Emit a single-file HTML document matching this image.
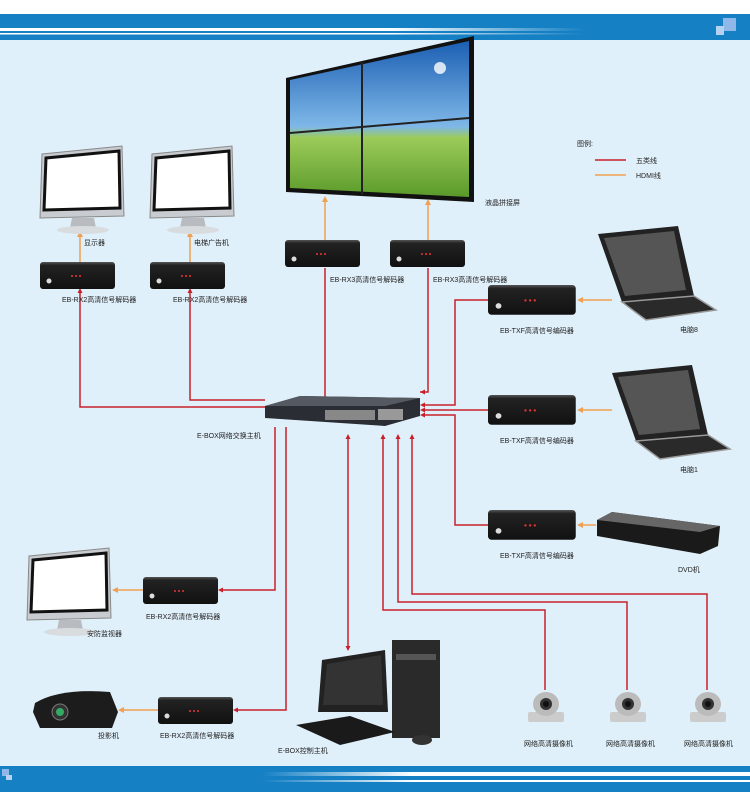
<!DOCTYPE html>
<html><head><meta charset="utf-8"><style>
body{margin:0;width:750px;height:800px;overflow:hidden;background:#fff}
svg{display:block}
text{font-family:"Liberation Sans","Noto Sans CJK SC",sans-serif;font-size:7px;fill:#222}
</style></head><body>
<svg width="750" height="800" viewBox="0 0 750 800" xmlns="http://www.w3.org/2000/svg">
<defs>
<linearGradient id="ln" x1="0" x2="1"><stop offset="0" stop-color="#fff"/><stop offset=".6" stop-color="#fff"/><stop offset=".9" stop-color="#fff" stop-opacity="0"/></linearGradient>
<linearGradient id="ln2" x1="1" x2="0"><stop offset="0" stop-color="#fff"/><stop offset=".45" stop-color="#fff"/><stop offset=".65" stop-color="#fff" stop-opacity="0"/></linearGradient>
<linearGradient id="sky" x1="0" y1="0" x2="0" y2="1"><stop offset="0" stop-color="#1c5fb3"/><stop offset=".55" stop-color="#7fb8e8"/><stop offset=".62" stop-color="#9ccb5a"/><stop offset="1" stop-color="#5a9a2a"/></linearGradient>
<linearGradient id="box" x1="0" y1="0" x2="0" y2="1"><stop offset="0" stop-color="#555"/><stop offset=".12" stop-color="#222"/><stop offset="1" stop-color="#111"/></linearGradient>
<g id="bx"><rect x="0" y="0" width="75" height="27" rx="3" fill="url(#box)"/><circle cx="9" cy="19" r="2.5" fill="#ddd"/><circle cx="32" cy="14" r="1" fill="#e33"/><circle cx="36" cy="14" r="1" fill="#e33"/><circle cx="40" cy="14" r="1" fill="#e33"/></g>
<g id="mon"><path d="M4 8 L84 0 L86 70 L2 72 Z" fill="#c8ccd0" stroke="#888" stroke-width="1"/><path d="M8 12 L81 5 L82 62 L6 64 Z" fill="#fff" stroke="#111" stroke-width="3"/><path d="M34 72 L56 72 L58 82 L32 82 Z" fill="#b8bcc0"/><ellipse cx="45" cy="84" rx="26" ry="4" fill="#d8dcdf"/></g>
<g id="cam"><rect x="2" y="22" width="36" height="10" rx="2" fill="#ccc"/><ellipse cx="20" cy="14" rx="13" ry="12" fill="#bbb"/><circle cx="20" cy="14" r="6" fill="#333"/><circle cx="20" cy="14" r="3" fill="#111"/></g>
<g id="lap"><path d="M0 8 L80 0 L96 70 L24 76 Z" fill="#222"/><path d="M6 12 L76 5 L88 64 L27 70 Z" fill="#555"/><path d="M24 76 L96 70 L118 84 L48 94 Z" fill="#2a2a2a" stroke="#999" stroke-width="1.5"/></g>
</defs>
<rect width="750" height="800" fill="#fff"/>
<rect y="40" width="750" height="726" fill="#e0f0fa"/>
<rect y="14" width="750" height="26" fill="#1580c4"/>
<rect y="28" width="650" height="3" fill="url(#ln)"/>
<rect y="33" width="650" height="1.5" fill="url(#ln)"/>
<rect x="723" y="18" width="13" height="13" fill="#8fb8e8"/><rect x="716" y="26" width="8" height="9" fill="#b5d2f0"/>
<rect y="766" width="750" height="26" fill="#1580c4"/>
<rect y="772" width="750" height="4" fill="url(#ln2)"/>
<rect y="780" width="750" height="2" fill="url(#ln2)"/>
<rect x="2" y="769" width="7" height="7" fill="#8fb8e8"/><rect x="6" y="775" width="6" height="5" fill="#b5d2f0"/>

<!-- video wall -->
<path d="M286 78 L474 36 L474 202 L286 192 Z" fill="#111"/>
<path d="M290 80 L469 41 L469 197 L290 188 Z" fill="url(#sky)"/>
<path d="M362 62 L362 195 M290 133 L469 118" stroke="#222" stroke-width="2"/>
<circle cx="440" cy="68" r="6" fill="#fff" opacity=".8"/>
<text x="485" y="205">液晶拼接屏</text>

<!-- legend -->
<text x="577" y="146">图例:</text>
<line x1="595" y1="160" x2="626" y2="160" stroke="#c8202a" stroke-width="1.5"/><text x="636" y="163">五类线</text>
<line x1="595" y1="175" x2="626" y2="175" stroke="#f0a050" stroke-width="1.5"/><text x="636" y="178">HDMI线</text>

<!-- red lines -->
<g stroke="#c8202a" stroke-width="1.5" fill="none">
<path d="M80 290 V407 H265"/><path d="M190 290 V400 H265"/>
<path d="M325 268 V397"/><path d="M428 268 V392 H420"/>
<path d="M488 300 H455 V405 H422"/><path d="M488 410 H422"/><path d="M488 525 H455 V415 H422"/>
<path d="M275 427 V590 H220"/><path d="M286 427 V710 H235"/>
<path d="M348 437 V648"/>
<path d="M383 437 V610 H545 V690"/><path d="M398 437 V602 H627 V690"/><path d="M412 437 V594 H707 V690"/>
</g>
<g fill="#c8202a">
<path d="M420 392 l5 -2.5 v5z"/><path d="M420 405 l5 -2.5 v5z"/><path d="M420 410 l5 -2.5 v5z"/><path d="M420 415 l5 -2.5 v5z"/>
<path d="M218 590 l5 -2.5 v5z"/><path d="M233 710 l5 -2.5 v5z"/>
<path d="M348 434 l-2.5 5 h5z"/><path d="M348 651 l-2.5 -5 h5z"/>
<path d="M383 434 l-2.5 5 h5z"/><path d="M398 434 l-2.5 5 h5z"/><path d="M412 434 l-2.5 5 h5z"/>
<path d="M80 288 l-2.5 5 h5z"/><path d="M190 288 l-2.5 5 h5z"/>
</g>
<!-- orange -->
<g stroke="#f0a050" stroke-width="1.5"><path d="M325 240 V200"/><path d="M428 240 V203"/><path d="M80 262 V235"/><path d="M190 262 V235"/><path d="M612 300 H580"/><path d="M612 410 H580"/><path d="M596 525 H580"/><path d="M143 590 H115"/><path d="M158 710 H121"/></g>
<g fill="#f0a050"><path d="M325 196 l-3 6 h6z"/><path d="M428 199 l-3 6 h6z"/><path d="M80 231 l-3 6 h6z"/><path d="M190 231 l-3 6 h6z"/><path d="M577 300 l6 -3 v6z"/><path d="M577 410 l6 -3 v6z"/><path d="M577 525 l6 -3 v6z"/><path d="M112 590 l6 -3 v6z"/><path d="M118 710 l6 -3 v6z"/></g>

<!-- monitors -->
<use href="#mon" x="38" y="146"/><text x="84" y="245">显示器</text>
<use href="#mon" x="148" y="146"/><text x="194" y="245">电梯广告机</text>
<use href="#mon" x="25" y="548"/><text x="87" y="636">安防监视器</text>

<!-- boxes -->
<use href="#bx" x="40" y="262"/><text x="62" y="302">EB-RX2高清信号解码器</text>
<use href="#bx" x="150" y="262"/><text x="173" y="302">EB-RX2高清信号解码器</text>
<use href="#bx" x="285" y="240"/><text x="330" y="282">EB-RX3高清信号解码器</text>
<use href="#bx" x="390" y="240"/><text x="433" y="282">EB-RX3高清信号解码器</text>
<g transform="translate(488,285) scale(1.17,1.1)"><use href="#bx"/></g><text x="500" y="333">EB-TXF高清信号编码器</text>
<g transform="translate(488,395) scale(1.17,1.1)"><use href="#bx"/></g><text x="500" y="443">EB-TXF高清信号编码器</text>
<g transform="translate(488,510) scale(1.17,1.1)"><use href="#bx"/></g><text x="500" y="558">EB-TXF高清信号编码器</text>
<use href="#bx" x="143" y="577"/><text x="146" y="619">EB-RX2高清信号解码器</text>
<use href="#bx" x="158" y="697"/><text x="160" y="738">EB-RX2高清信号解码器</text>

<!-- switch -->
<path d="M265 406 L300 396 L420 398 L420 416 L385 426 L265 418 Z" fill="#2a2d33"/>
<path d="M265 406 L300 396 L420 398 L385 406 Z" fill="#555a62"/>
<rect x="325" y="410" width="50" height="10" fill="#888"/><rect x="378" y="409" width="25" height="11" fill="#999"/>
<text x="197" y="438">E-BOX网络交换主机</text>

<!-- laptops -->
<use href="#lap" x="598" y="226"/><text x="680" y="332">电脑8</text>
<use href="#lap" x="612" y="365"/><text x="680" y="472">电脑1</text>
<!-- DVD -->
<path d="M597 520 L612 512 L720 526 L718 546 L700 554 L597 536 Z" fill="#1a1a1a"/><path d="M597 520 L612 512 L720 526 L700 532 Z" fill="#666"/>
<text x="678" y="572">DVD机</text>

<!-- projector -->
<path d="M35 703 Q60 688 110 692 L118 712 L112 728 L40 728 L33 712 Z" fill="#1c1c1c"/><circle cx="60" cy="712" r="8" fill="#333" stroke="#777"/><circle cx="60" cy="712" r="4" fill="#3a6"/>
<text x="98" y="738">投影机</text>

<!-- PC -->
<path d="M322 660 L385 650 L388 712 L318 712 Z" fill="#222"/><path d="M327 664 L381 655 L383 705 L323 705 Z" fill="#333"/>
<rect x="392" y="640" width="48" height="98" fill="#2a2a2a"/><rect x="396" y="654" width="40" height="6" fill="#555"/>
<path d="M296 725 L350 716 L395 732 L340 745 Z" fill="#1a1a1a"/>
<ellipse cx="422" cy="740" rx="10" ry="5" fill="#333"/>
<text x="278" y="753">E-BOX控制主机</text>

<!-- cameras -->
<use href="#cam" x="526" y="690"/><text x="524" y="746">网络高清摄像机</text>
<use href="#cam" x="608" y="690"/><text x="606" y="746">网络高清摄像机</text>
<use href="#cam" x="688" y="690"/><text x="684" y="746">网络高清摄像机</text>
</svg>
</body></html>
